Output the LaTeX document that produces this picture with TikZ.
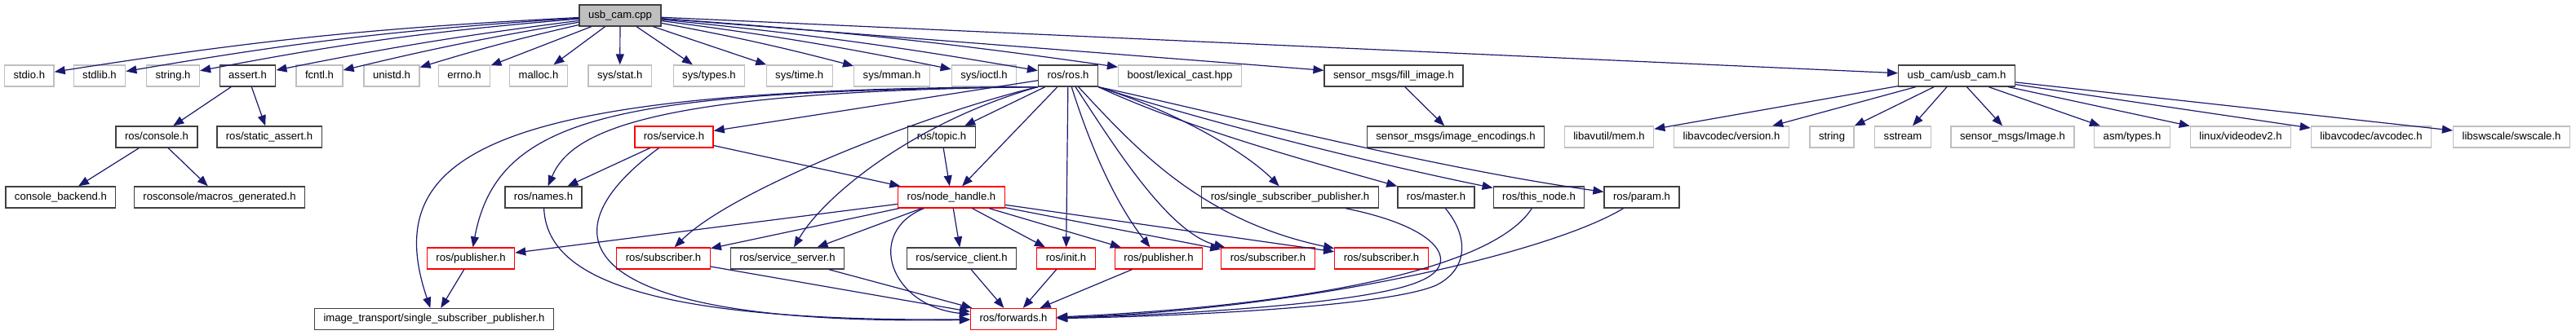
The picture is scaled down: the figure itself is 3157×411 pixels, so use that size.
\documentclass[tikz,border=0pt]{standalone}
\usepackage{fontspec}
\setmainfont[Ligatures=NoCommon]{Liberation Sans}
\usepackage{tikz}
\usetikzlibrary{arrows.meta}
\definecolor{edgeblue}{HTML}{191970}
\definecolor{boxgray}{HTML}{BFBFBF}

\begin{document}
\begin{tikzpicture}[x=1pt, y=-1pt, >={Triangle[length=13pt, width=10pt]},
    every node/.style={font=\fontsize{13.1}{15.7}\selectfont, inner xsep=11pt,
        inner ysep=0pt, minimum height=26pt, text height=9.4pt, text depth=2.7pt,
        line width=1.3pt},
    srcfile/.style={draw=black!75, fill=boxgray},
    docinc/.style={draw=black!75},
    sysinc/.style={draw=boxgray},
    cutinc/.style={draw=red},
    incl/.style={->, draw=edgeblue, line width=1.2pt}]

    %% Background
    \useasboundingbox (0,0) rectangle (3157,411);

    % Source file
    \node[srcfile] (usbcamcpp) at (760,19) {usb\_cam.cpp};

    % First level includes
    \node[sysinc] (stdio) at (35.8,93) {stdio.h};
    \node[sysinc] (stdlib) at (122,93) {stdlib.h};
    \node[sysinc] (stringh) at (212,93) {string.h};
    \node[docinc] (asserth) at (303.5,93) {assert.h};
    \node[sysinc] (fcntl) at (391.5,93) {fcntl.h};
    \node[sysinc] (unistd) at (480,93) {unistd.h};
    \node[sysinc] (errno) at (569,93) {errno.h};
    \node[sysinc] (malloc) at (660,93) {malloc.h};
    \node[sysinc] (sysstat) at (759.7,93) {sys/stat.h};
    \node[sysinc] (systypes) at (869,93) {sys/types.h};
    \node[sysinc] (systime) at (979.7,93) {sys/time.h};
    \node[sysinc] (sysmman) at (1093,93) {sys/mman.h};
    \node[sysinc] (sysioctl) at (1206,93) {sys/ioctl.h};
    \node[docinc] (rosros) at (1309,93) {ros/ros.h};
    \node[sysinc] (boostlc) at (1446,93) {boost/lexical\_cast.hpp};
    \node[docinc] (fillimg) at (1708,93) {sensor\_msgs/fill\_image.h};
    \node[docinc] (usbcamh) at (2398,93) {usb\_cam/usb\_cam.h};

    % Second level
    \node[docinc] (console) at (192,168) {ros/console.h};
    \node[docinc] (staticassert) at (330,168) {ros/static\_assert.h};
    \node[cutinc] (service) at (826,168) {ros/service.h};
    \node[docinc] (topic) at (1154,168) {ros/topic.h};
    \node[docinc] (imgenc) at (1784,168) {sensor\_msgs/image\_encodings.h};
    \node[sysinc] (avmem) at (1972,168) {libavutil/mem.h};
    \node[sysinc] (avver) at (2122,168) {libavcodec/version.h};
    \node[sysinc] (stringcpp) at (2245,168) {string};
    \node[sysinc] (sstream) at (2332,168) {sstream};
    \node[sysinc] (sensimg) at (2466.5,168) {sensor\_msgs/Image.h};
    \node[sysinc] (asmtypes) at (2613,168) {asm/types.h};
    \node[sysinc] (videodev) at (2746,168) {linux/videodev2.h};
    \node[sysinc] (avcodec) at (2906,168) {libavcodec/avcodec.h};
    \node[sysinc] (swscale) at (3078,168) {libswscale/swscale.h};

    % Third level
    \node[docinc] (backend) at (74.4,242) {console\_backend.h};
    \node[docinc] (macrosgen) at (269,242) {rosconsole/macros\_generated.h};
    \node[docinc] (names) at (666,242) {ros/names.h};
    \node[cutinc] (nodehandle) at (1166,242) {ros/node\_handle.h};
    \node[docinc] (ssp) at (1581,242) {ros/single\_subscriber\_publisher.h};
    \node[docinc] (master) at (1760,242) {ros/master.h};
    \node[docinc] (thisnode) at (1886,242) {ros/this\_node.h};
    \node[docinc] (param) at (2012,242) {ros/param.h};

    % Fourth level
    \node[cutinc] (publ) at (577,317) {ros/publisher.h};
    \node[cutinc] (subl) at (813,317) {ros/subscriber.h};
    \node[docinc] (srvserver) at (965,317) {ros/service\_server.h};
    \node[docinc] (srvclient) at (1178.5,317) {ros/service\_client.h};
    \node[cutinc] (init) at (1306.5,317) {ros/init.h};
    \node[cutinc] (pubr) at (1420,317) {ros/publisher.h};
    \node[cutinc] (subm) at (1554,317) {ros/subscriber.h};
    \node[cutinc] (subr) at (1693,317) {ros/subscriber.h};

    % Bottom
    \node[docinc] (itssp) at (532,391.5) {image\_transport/single\_subscriber\_publisher.h};
    \node[cutinc] (forwards) at (1242,391.5) {ros/forwards.h};

    % usb_cam.cpp
    \draw[incl] (usbcamcpp) to[bend right=3] (stdio);
    \draw[incl] (usbcamcpp) to[bend right=3] (stdlib);
    \draw[incl] (usbcamcpp) to[bend right=3] (stringh);
    \draw[incl] (usbcamcpp) to[bend right=2] (asserth);
    \draw[incl] (usbcamcpp) to[bend right=2] (fcntl);
    \draw[incl] (usbcamcpp) to[bend right=2] (unistd);
    \draw[incl] (usbcamcpp) -- (errno);
    \draw[incl] (usbcamcpp) -- (malloc);
    \draw[incl] (usbcamcpp) -- (sysstat);
    \draw[incl] (usbcamcpp) -- (systypes);
    \draw[incl] (usbcamcpp) -- (systime);
    \draw[incl] (usbcamcpp) to[bend left=2] (sysmman);
    \draw[incl] (usbcamcpp) to[bend left=2] (sysioctl);
    \draw[incl] (usbcamcpp) to[bend left=2] (rosros);
    \draw[incl] (usbcamcpp) to[bend left=2] (boostlc);
    \draw[incl] (usbcamcpp) -- (fillimg);
    \draw[incl] (usbcamcpp) -- (usbcamh);

    % assert.h and ros/console.h
    \draw[incl] (asserth) -- (console);
    \draw[incl] (asserth) -- (staticassert);
    \draw[incl] (console) -- (backend);
    \draw[incl] (console) -- (macrosgen);

    % sensor_msgs/fill_image.h
    \draw[incl] (fillimg) -- (imgenc);

    % usb_cam/usb_cam.h
    \draw[incl] (usbcamh) -- (avmem);
    \draw[incl] (usbcamh) -- (avver);
    \draw[incl] (usbcamh) -- (stringcpp);
    \draw[incl] (usbcamh) -- (sstream);
    \draw[incl] (usbcamh) -- (sensimg);
    \draw[incl] (usbcamh) -- (asmtypes);
    \draw[incl] (usbcamh) -- (videodev);
    \draw[incl] (usbcamh) -- (avcodec);
    \draw[incl] (usbcamh) -- (swscale);

    % ros/ros.h, to the left
    \draw[incl] (rosros) -- (service);
    \draw[incl] (rosros.south west) .. controls (760,112) and (610,140) .. (publ);
    \draw[incl] (rosros.south west) .. controls (620,108) and (460,180) .. (itssp);
    \draw[incl] (rosros.south west) .. controls (800,112) and (700,160) .. (names);
    \draw[incl] (rosros.south west) .. controls (1150,135) and (900,230) .. (subl);
    \draw[incl] (rosros.south west) .. controls (1120,150) and (1010,240) .. (srvserver);

    % ros/ros.h, downwards and to the right
    \draw[incl] (rosros) -- (topic);
    \draw[incl] (rosros) -- (nodehandle);
    \draw[incl] (rosros) -- (init);
    \draw[incl] (rosros) .. controls (1330,160) and (1360,240) .. (pubr);
    \draw[incl] (rosros) .. controls (1360,170) and (1430,285) .. (subm);
    \draw[incl] (rosros) .. controls (1390,180) and (1470,270) .. (subr);
    \draw[incl] (rosros.south east) .. controls (1450,140) and (1530,190) .. (ssp);
    \draw[incl] (rosros.south east) .. controls (1460,160) and (1630,205) .. (master);
    \draw[incl] (rosros.south east) .. controls (1480,150) and (1680,200) .. (thisnode);
    \draw[incl] (rosros.south east) .. controls (1500,140) and (1750,205) .. (param);

    % ros/service.h and ros/topic.h
    \draw[incl] (service) -- (names);
    \draw[incl] (service) -- (nodehandle);
    \draw[incl] (service) .. controls (660,290) and (700,400) .. (forwards);
    \draw[incl] (topic) -- (nodehandle);

    % ros/node_handle.h
    \draw[incl] (nodehandle) -- (publ);
    \draw[incl] (nodehandle) -- (subl);
    \draw[incl] (nodehandle) -- (srvserver);
    \draw[incl] (nodehandle) -- (srvclient);
    \draw[incl] (nodehandle) -- (init);
    \draw[incl] (nodehandle) -- (pubr);
    \draw[incl] (nodehandle) -- (subm);
    \draw[incl] (nodehandle) -- (subr);
    \draw[incl] (nodehandle) .. controls (1060,285) and (1090,375) .. (forwards);

    % into ros/forwards.h
    \draw[incl] (names) .. controls (670,330) and (760,395) .. (forwards);
    \draw[incl] (subl) -- (forwards);
    \draw[incl] (srvserver) -- (forwards);
    \draw[incl] (srvclient) -- (forwards);
    \draw[incl] (init) -- (forwards);
    \draw[incl] (pubr) -- (forwards);
    \draw[incl] (ssp) .. controls (1770,280) and (1790,325) .. (1740,345)
        .. controls (1680,372) and (1450,386) .. (forwards);
    \draw[incl] (master) .. controls (1800,290) and (1800,330) .. (1760,350)
        .. controls (1700,376) and (1450,388) .. (forwards);
    \draw[incl] (thisnode) .. controls (1830,330) and (1600,375) .. (forwards);
    \draw[incl] (param) .. controls (1900,310) and (1600,380) .. (forwards);

    % ros/publisher.h
    \draw[incl] (publ) -- (itssp);

\end{tikzpicture}
\end{document}
